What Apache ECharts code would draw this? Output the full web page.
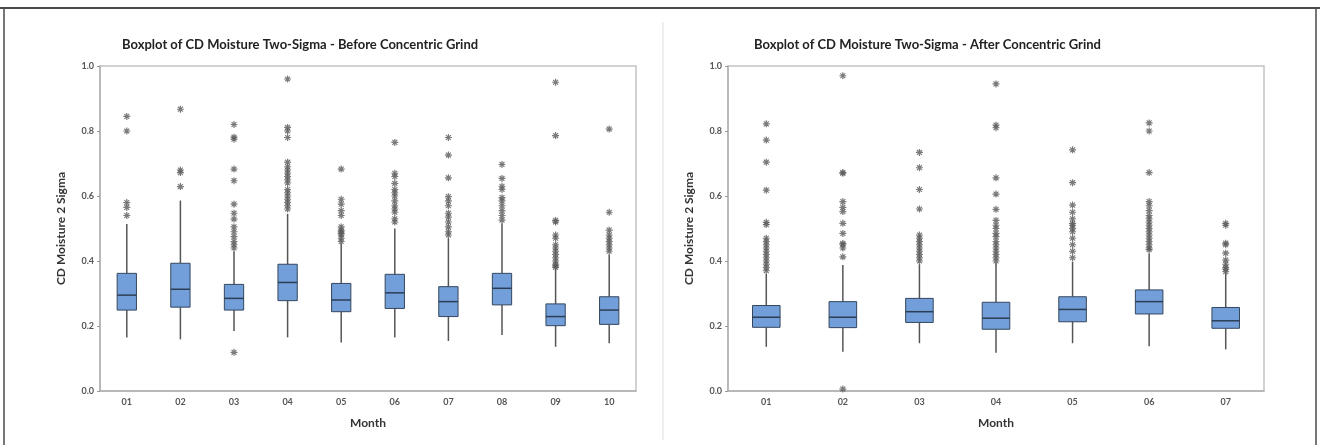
<!DOCTYPE html>
<html>
<head>
<meta charset="utf-8">
<script src="https://cdn.jsdelivr.net/npm/echarts@6/dist/echarts.min.js"></script>
<style>
  html, body { margin: 0; padding: 0; background: #fff; }
  #main { width: 1320px; height: 445px; }
</style>
</head>
<body>
<div id="main"></div>
<script>
// before concentric grind
const beforeMonths = ['01', '02', '03', '04', '05', '06', '07', '08', '09', '10'];
const beforeLow  = [0.165, 0.159, 0.185, 0.165, 0.149, 0.165, 0.154, 0.172, 0.136, 0.147];
const beforeQ1   = [0.249, 0.258, 0.249, 0.278, 0.244, 0.254, 0.229, 0.265, 0.201, 0.205];
const beforeMed  = [0.295, 0.313, 0.285, 0.334, 0.280, 0.302, 0.275, 0.316, 0.229, 0.249];
const beforeQ3   = [0.362, 0.393, 0.328, 0.390, 0.331, 0.359, 0.321, 0.362, 0.268, 0.290];
const beforeHigh = [0.514, 0.586, 0.430, 0.545, 0.455, 0.500, 0.470, 0.516, 0.375, 0.420];
const beforeOutliers = [
    [0.845, 0.80, 0.58, 0.565, 0.54],
    [0.867, 0.68, 0.672, 0.629],
    [0.82, 0.781, 0.775, 0.683, 0.647, 0.575, 0.547, 0.529, 0.505, 0.49, 0.475, 0.46, 0.45, 0.44, 0.119],
    [0.96, 0.811, 0.80, 0.78, 0.704, 0.69, 0.68, 0.67, 0.66, 0.65, 0.64, 0.62, 0.61, 0.60, 0.59, 0.58, 0.57, 0.56],
    [0.683, 0.59, 0.575, 0.555, 0.54, 0.505, 0.495, 0.49, 0.485, 0.48, 0.47, 0.46],
    [0.765, 0.67, 0.66, 0.639, 0.62, 0.61, 0.60, 0.585, 0.57, 0.56, 0.55, 0.53, 0.52],
    [0.78, 0.726, 0.656, 0.598, 0.585, 0.57, 0.547, 0.535, 0.52, 0.505, 0.49, 0.48],
    [0.697, 0.654, 0.63, 0.62, 0.595, 0.585, 0.57, 0.555, 0.54, 0.526],
    [0.95, 0.786, 0.525, 0.52, 0.48, 0.47, 0.45, 0.44, 0.43, 0.42, 0.41, 0.40, 0.39, 0.385, 0.38],
    [0.806, 0.55, 0.495, 0.48, 0.47, 0.46, 0.45, 0.44, 0.43]
];

// after concentric grind
const afterMonths = ['01', '02', '03', '04', '05', '06', '07'];
const afterLow  = [0.136, 0.121, 0.147, 0.118, 0.147, 0.138, 0.128];
const afterQ1   = [0.196, 0.195, 0.211, 0.190, 0.213, 0.237, 0.193];
const afterMed  = [0.227, 0.227, 0.244, 0.224, 0.251, 0.275, 0.216];
const afterQ3   = [0.263, 0.275, 0.285, 0.273, 0.290, 0.311, 0.257];
const afterHigh = [0.360, 0.388, 0.390, 0.393, 0.398, 0.424, 0.362];
const afterOutliers = [
    [0.822, 0.772, 0.704, 0.618, 0.519, 0.512, 0.47, 0.46, 0.45, 0.44, 0.43, 0.42, 0.41, 0.40, 0.39, 0.38, 0.37],
    [0.97, 0.672, 0.67, 0.583, 0.565, 0.552, 0.516, 0.485, 0.454, 0.45, 0.44, 0.413, 0.006],
    [0.734, 0.687, 0.62, 0.56, 0.48, 0.47, 0.46, 0.45, 0.44, 0.43, 0.42, 0.41, 0.40],
    [0.945, 0.818, 0.81, 0.656, 0.606, 0.559, 0.525, 0.51, 0.50, 0.485, 0.475, 0.46, 0.45, 0.44, 0.43, 0.42, 0.41, 0.40],
    [0.742, 0.641, 0.572, 0.55, 0.53, 0.516, 0.51, 0.50, 0.49, 0.47, 0.45, 0.43, 0.41],
    [0.825, 0.80, 0.672, 0.583, 0.57, 0.555, 0.54, 0.53, 0.52, 0.51, 0.50, 0.49, 0.48, 0.47, 0.46, 0.45, 0.44, 0.435],
    [0.516, 0.51, 0.455, 0.45, 0.424, 0.403, 0.39, 0.38, 0.375, 0.367]
];

const yTicks = [0, 0.2, 0.4, 0.6, 0.8, 1.0];

// [index, low, q1, median, q3, high]
const boxData = (lo, q1, md, q3, hi) => lo.map((v, i) => [i, v, q1[i], md[i], q3[i], hi[i]]);
const outlierData = (months, outs) => {
    const pts = [];
    outs.forEach((list, i) => list.forEach(v => pts.push([months[i], v])));
    return pts;
};

const asterisk = 'path://M5,0L5,10M0,5L10,5M1.5,1.5L8.5,8.5M8.5,1.5L1.5,8.5';
const fontFam = 'Lato, "Open Sans", sans-serif';

// minitab style box: no whisker caps
const renderBox = (params, api) => {
    const i = api.value(0);
    const pLo = api.coord([i, api.value(1)]);
    const pQ1 = api.coord([i, api.value(2)]);
    const pMd = api.coord([i, api.value(3)]);
    const pQ3 = api.coord([i, api.value(4)]);
    const pHi = api.coord([i, api.value(5)]);
    const w = api.size([1, 0])[0] * 0.36;
    const x = pMd[0];
    const whisk = { stroke: '#555', lineWidth: 1.5 };
    return {
        type: 'group',
        children: [
            { type: 'line', shape: { x1: x, y1: pLo[1], x2: x, y2: pQ1[1] }, style: whisk },
            { type: 'line', shape: { x1: x, y1: pQ3[1], x2: x, y2: pHi[1] }, style: whisk },
            { type: 'rect', shape: { x: x - w / 2, y: pQ3[1], width: w, height: pQ1[1] - pQ3[1] },
              style: { fill: '#729fd9', stroke: '#34475e', lineWidth: 1 } },
            { type: 'line', shape: { x1: x - w / 2, y1: pMd[1], x2: x + w / 2, y2: pMd[1] },
              style: { stroke: '#2c3e56', lineWidth: 1.5 } }
        ]
    };
};

const mkX = (i, cats) => ({
    type: 'category', gridIndex: i, data: cats,
    name: 'Month', nameLocation: 'middle', nameGap: 26,
    nameTextStyle: { fontFamily: fontFam, fontWeight: 'bold', fontSize: 12, color: '#333' },
    axisLine: { lineStyle: { color: '#b0b0b0', width: 1.5 } },
    axisTick: { alignWithLabel: true, length: 3, lineStyle: { color: '#999' } },
    axisLabel: { fontFamily: fontFam, fontWeight: 'bold', fontSize: 9, color: '#555', margin: 7 },
    splitLine: { show: false }
});
const mkY = (i) => ({
    type: 'value', gridIndex: i, min: 0, max: 1, interval: 0.2,
    name: 'CD Moisture 2 Sigma', nameLocation: 'middle', nameGap: 33,
    nameTextStyle: { fontFamily: fontFam, fontWeight: 'bold', fontSize: 12, color: '#333' },
    axisLine: { show: true, lineStyle: { color: '#b0b0b0', width: 1.5 } },
    axisTick: { show: true, length: 3, lineStyle: { color: '#999' } },
    axisLabel: { fontFamily: fontFam, fontWeight: 'bold', fontSize: 9, color: '#555', margin: 6,
        formatter: v => yTicks.includes(v) ? v.toFixed(1) : '' },
    splitLine: { show: false }
});

const outStyle = { color: 'transparent', borderColor: '#5a5a5a', borderWidth: 1.2 };

const option = {
    animation: false,
    backgroundColor: '#fff',
    title: [
        { text: 'Boxplot of CD Moisture Two-Sigma - Before Concentric Grind', left: 117, top: 33,
          textStyle: { fontFamily: fontFam, fontWeight: 'bold', fontSize: 13, color: '#222' } },
        { text: 'Boxplot of CD Moisture Two-Sigma - After Concentric Grind', left: 749, top: 33,
          textStyle: { fontFamily: fontFam, fontWeight: 'bold', fontSize: 13, color: '#222' } }
    ],
    grid: [
        { left: 100, top: 66, width: 536, height: 325, show: true, borderColor: '#c4c4c4', borderWidth: 1.5 },
        { left: 728, top: 66, width: 536, height: 325, show: true, borderColor: '#c4c4c4', borderWidth: 1.5 }
    ],
    xAxis: [mkX(0, beforeMonths), mkX(1, afterMonths)],
    yAxis: [mkY(0), mkY(1)],
    series: [
        { type: 'custom', xAxisIndex: 0, yAxisIndex: 0, renderItem: renderBox,
          encode: { x: 0, y: [1, 2, 3, 4, 5] },
          data: boxData(beforeLow, beforeQ1, beforeMed, beforeQ3, beforeHigh) },
        { type: 'scatter', xAxisIndex: 0, yAxisIndex: 0, symbol: asterisk, symbolSize: 7,
          data: outlierData(beforeMonths, beforeOutliers), itemStyle: outStyle },
        { type: 'custom', xAxisIndex: 1, yAxisIndex: 1, renderItem: renderBox,
          encode: { x: 0, y: [1, 2, 3, 4, 5] },
          data: boxData(afterLow, afterQ1, afterMed, afterQ3, afterHigh) },
        { type: 'scatter', xAxisIndex: 1, yAxisIndex: 1, symbol: asterisk, symbolSize: 7,
          data: outlierData(afterMonths, afterOutliers), itemStyle: outStyle }
    ],
    graphic: [
        { type: 'line', shape: { x1: 0, y1: 8, x2: 1320, y2: 8 }, style: { stroke: '#4a4a4a', lineWidth: 2 } },
        { type: 'line', shape: { x1: 4, y1: 8, x2: 4, y2: 445 }, style: { stroke: '#4a4a4a', lineWidth: 1.5 } },
        { type: 'line', shape: { x1: 1316, y1: 8, x2: 1316, y2: 445 }, style: { stroke: '#4a4a4a', lineWidth: 1.5 } },
        { type: 'line', shape: { x1: 663, y1: 22, x2: 663, y2: 440 }, style: { stroke: '#dddddd', lineWidth: 1 } }
    ]
};

const chart = echarts.init(document.getElementById('main'));
chart.setOption(option);
</script>
</body>
</html>
